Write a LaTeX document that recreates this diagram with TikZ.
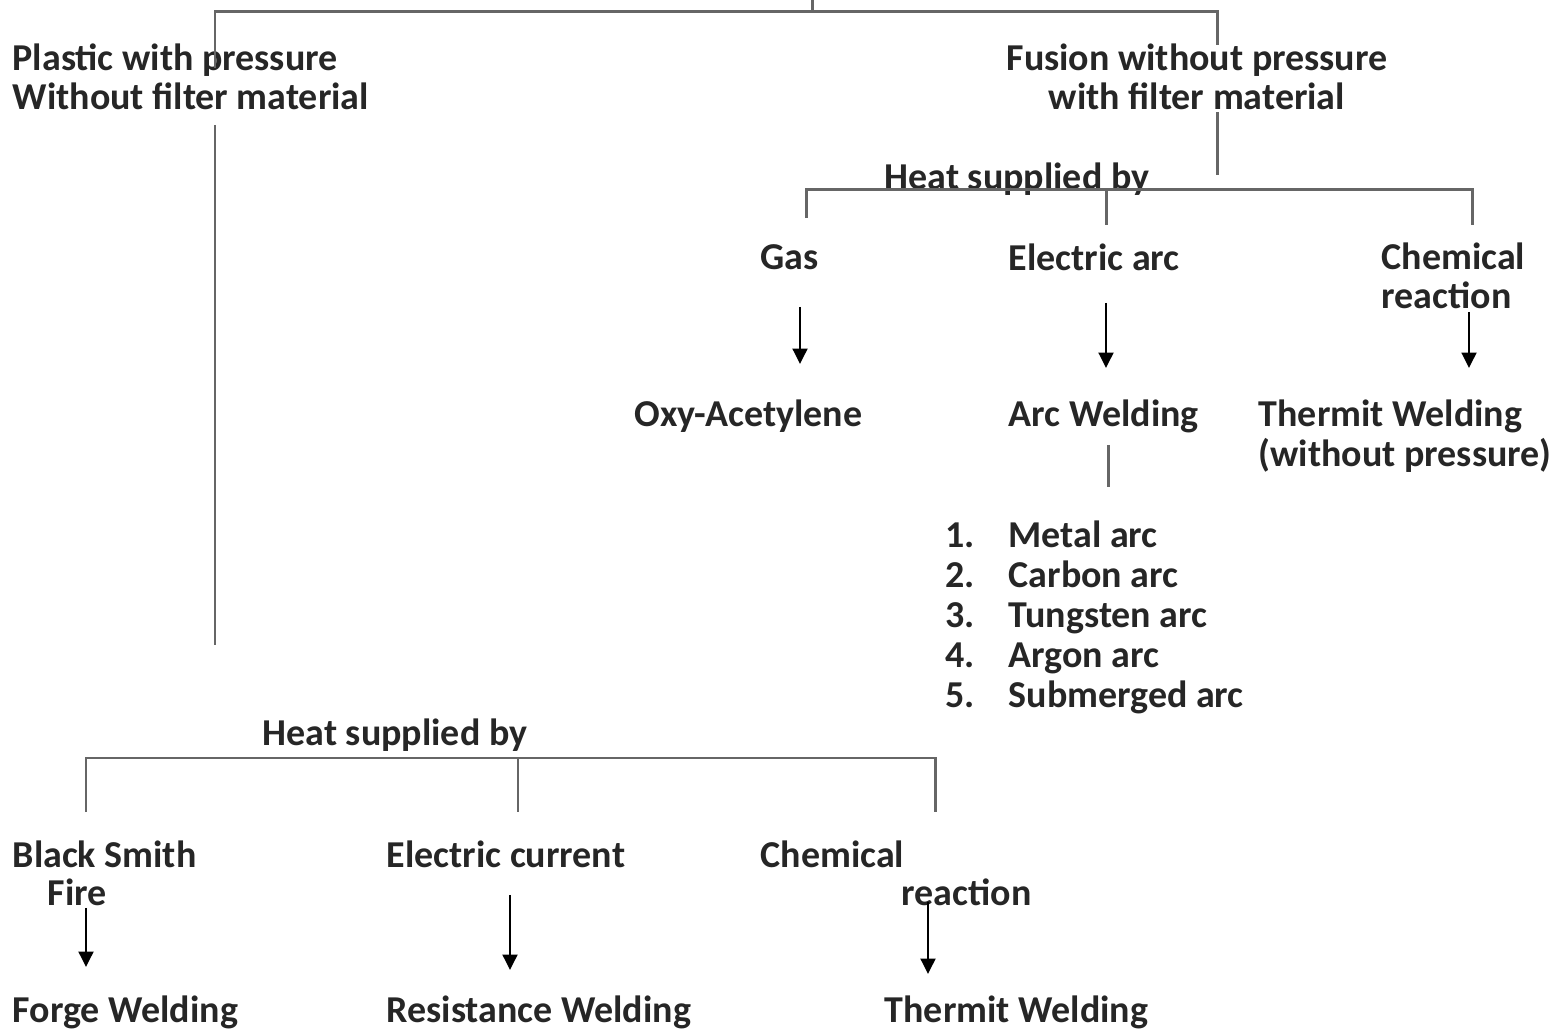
\documentclass[tikz,border=0pt]{standalone}
\usepackage{fontspec}
\setmainfont{Carlito}
\usetikzlibrary{arrows.meta}

\begin{document}
\begin{tikzpicture}[x=0.01cm, y=-0.01cm]
%Declaration of styles
	\tikzstyle{lbl} = [inner sep=0pt, anchor=west, align=left, text=black!85, font=\bfseries\fontsize{10.8}{11.2}\selectfont] %style for the texts
	\tikzstyle{item} = [lbl, text height=7.6pt, text depth=2.4pt] %style for the list of arcs
	\tikzstyle{ln} = [draw=black!60, line width=0.85pt] %style for the tree lines
	\tikzstyle{arr} = [draw=black, line width=0.75pt, -{Triangle[length=4.4pt, width=4.2pt]}] %style for the arrows
	\useasboundingbox (0,0) rectangle (1557,1031);
%Nodes, the texts of the graphic
	\node [lbl] (plastic) at (12,77) {Plastic with pressure\\Without filter material};
	\node [lbl, anchor=center, align=center] (fusion) at (1197,77) {Fusion without pressure\\with filter material};
	\node [lbl] (heatR) at (884,179) {Heat supplied by};
	\node [lbl] (gas) at (760,257) {Gas};
	\node [lbl] (elarc) at (1008,257) {Electric arc};
	\node [lbl] (chemR) at (1381,276) {Chemical\\reaction};
	\node [lbl] (oxy) at (634,416) {Oxy-Acetylene};
	\node [lbl] (arcw) at (1008,416) {Arc Welding};
	\node [lbl] (thermR) at (1258,436) {Thermit Welding\\(without pressure)};
	\foreach \n/\t in {1/Metal arc, 2/Carbon arc, 3/Tungsten arc, 4/Argon arc, 5/Submerged arc}
		{\node [item] (num\n) at (945,498+40*\n) {\n.};
		 \node [item] (item\n) at (1008,498+40*\n) {\t};}
	\node [lbl] (heatL) at (262,735) {Heat supplied by};
	\node [lbl] (bsmith) at (12,854) {Black Smith};
	\node [lbl] (fire) at (47,892) {Fire};
	\node [lbl] (elcur) at (386,854) {Electric current};
	\node [lbl] (chemL) at (760,854) {Chemical};
	\node [lbl] (reacL) at (901,892) {reaction};
	\node [lbl] (forge) at (12,1012) {Forge Welding};
	\node [lbl] (resist) at (386,1012) {Resistance Welding};
	\node [lbl] (thermL) at (884,1012) {Thermit Welding};
%Junction points of the tree
	\coordinate (root) at (812,0);
	\coordinate (rootj) at (812,12);
	\coordinate (lj) at (215,12);
	\coordinate (rj) at (1217,12);
	\coordinate (lend) at (215,68);
	\coordinate (rend) at (1217,45);
	\coordinate (fusA) at (1217,112);
	\coordinate (fusB) at (1217,175);
	\coordinate (gasj) at (806,190);
	\coordinate (arcj) at (1106,190);
	\coordinate (chemj) at (1472,190);
	\coordinate (arcwA) at (1108,445);
	\coordinate (arcwB) at (1108,487);
	\coordinate (plA) at (215,125);
	\coordinate (plB) at (215,645);
	\coordinate (bsj) at (86,758);
	\coordinate (ecj) at (518,758);
	\coordinate (chj) at (935,758);
%Lines of the tree
	\draw [ln] (root) -- (rootj);
	\draw [ln] (lend) -- (lj) -- (rj) -- (rend);
	\draw [ln] (fusA) -- (fusB);
	\draw [ln] ([yshift=-0.28cm]gasj) -- (gasj) -- (chemj) -- ([yshift=-0.35cm]chemj);
	\draw [ln] (arcj) -- ([yshift=-0.35cm]arcj);
	\draw [ln] (arcwA) -- (arcwB);
	\draw [ln] (plA) -- (plB);
	\draw [ln] ([yshift=-0.54cm]bsj) -- (bsj) -- (chj) -- ([yshift=-0.54cm]chj);
	\draw [ln] (ecj) -- ([yshift=-0.54cm]ecj);
%Arrows
	\draw [arr] (800,307) coordinate (gasA) -- (800,364) coordinate (gasB);
	\draw [arr] (1106,303) coordinate (arcA) -- (1106,368) coordinate (arcB);
	\draw [arr] (1469,312) coordinate (chmA) -- (1469,368) coordinate (chmB);
	\draw [arr] (86,908) coordinate (bsA) -- (86,967) coordinate (bsB);
	\draw [arr] (510,895) coordinate (ecA) -- (510,970) coordinate (ecB);
	\draw [arr] (928,902) coordinate (chA) -- (928,974) coordinate (chB);
\end{tikzpicture}
\end{document}
